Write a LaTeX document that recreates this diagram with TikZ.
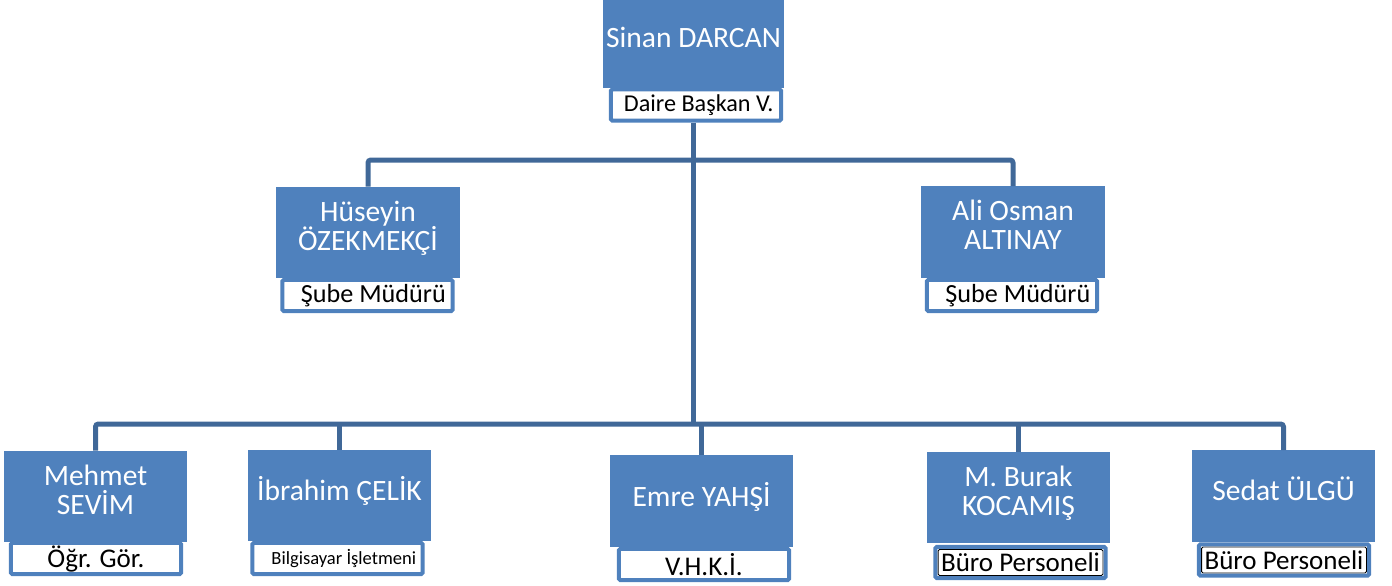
\documentclass[tikz,border=0pt]{standalone}
\usepackage{fontspec}
\setmainfont{Carlito}
\definecolor{boxblue}{RGB}{79,129,189}
\definecolor{wireblue}{RGB}{64,104,152}
\tikzset{
	namebox/.style={fill=boxblue, text=white, align=center, minimum width=4.575cm, minimum height=2.275cm, inner sep=2pt, text depth=0.35cm, font=\fontsize{21}{20.8}\selectfont},
	titlebox/.style={draw=boxblue, fill=white, line width=0.1cm, rounded corners=1pt, minimum width=4.25cm, minimum height=0.78cm, inner sep=0pt, font=\fontsize{17.2}{19}\selectfont},
	bigtitle/.style={titlebox, font=\fontsize{19.2}{21}\selectfont},
	framedbox/.style={path picture={\draw[black, line width=0.6pt] ([shift={(0.065cm,0.065cm)}]path picture bounding box.south west) rectangle ([shift={(-0.065cm,-0.065cm)}]path picture bounding box.north east);}},
	wire/.style={draw=wireblue, line width=0.125cm, rounded corners=2pt}
}
\begin{document}
\begin{tikzpicture}[x=0.025cm, y=-0.025cm]
		\useasboundingbox (0, 0) rectangle (1392, 585);
		
		\node[titlebox] (sinanlbl) at (696, 105) {\ Daire Başkan V.};
		\node[titlebox, font=\fontsize{18.6}{20}\selectfont] (huseyinlbl) at (367.5, 295.5) {\ \ Şube Müdürü};
		\node[titlebox, font=\fontsize{18.6}{20}\selectfont] (alilbl) at (1012, 295.5) {\ \ Şube Müdürü};
		\node[bigtitle] (mehmetlbl) at (96, 558.5) {Öğr. Gör.};
		\node[titlebox, font=\fontsize{13.2}{15}\selectfont] (ibrahimlbl) at (337.5, 558.5) {\ \ \ Bilgisayar İşletmeni};
		\node[bigtitle] (emrelbl) at (704, 564.5) {V.H.K.İ.};
		\node[bigtitle, framedbox] (buraklbl) at (1020.5, 562.5) {Büro Personeli};
		\node[bigtitle, framedbox] (sedatlbl) at (1284, 560) {Büro Personeli};
		
		\node[namebox, minimum width=4.525cm, minimum height=2.2cm] (sinan) at (693.5, 44) {Sinan DARCAN};
		\node[namebox] (huseyin) at (368, 232.5) {Hüseyin\\ÖZEKMEKÇİ};
		\node[namebox] (ali) at (1013, 232) {Ali Osman\\ALTINAY};
		\node[namebox] (mehmet) at (95.5, 496.5) {Mehmet\\SEVİM};
		\node[namebox] (ibrahim) at (339.5, 495.5) {İbrahim ÇELİK};
		\node[namebox] (emre) at (701.5, 501) {Emre YAHŞİ};
		\node[namebox] (burak) at (1018.5, 497.5) {M. Burak\\KOCAMIŞ};
		\node[namebox] (sedat) at (1283.5, 496) {Sedat ÜLGÜ};
		
		\coordinate (topbus) at (693.5, 160);
		\coordinate (lowbus) at (693.5, 424);
		
		\draw[wire] (sinan.south |- sinanlbl.south) -- (lowbus);
		\draw[wire] (huseyin.north) -- (huseyin.north |- topbus) -- (ali.north |- topbus) -- (ali.north);
		\draw[wire] (mehmet.north) -- (mehmet.north |- lowbus) -- (sedat.north |- lowbus) -- (sedat.north);
		\foreach \who in {ibrahim, emre, burak}
			\draw[wire] (\who.north |- lowbus) -- (\who.north);
		
	\end{tikzpicture}
\end{document}
